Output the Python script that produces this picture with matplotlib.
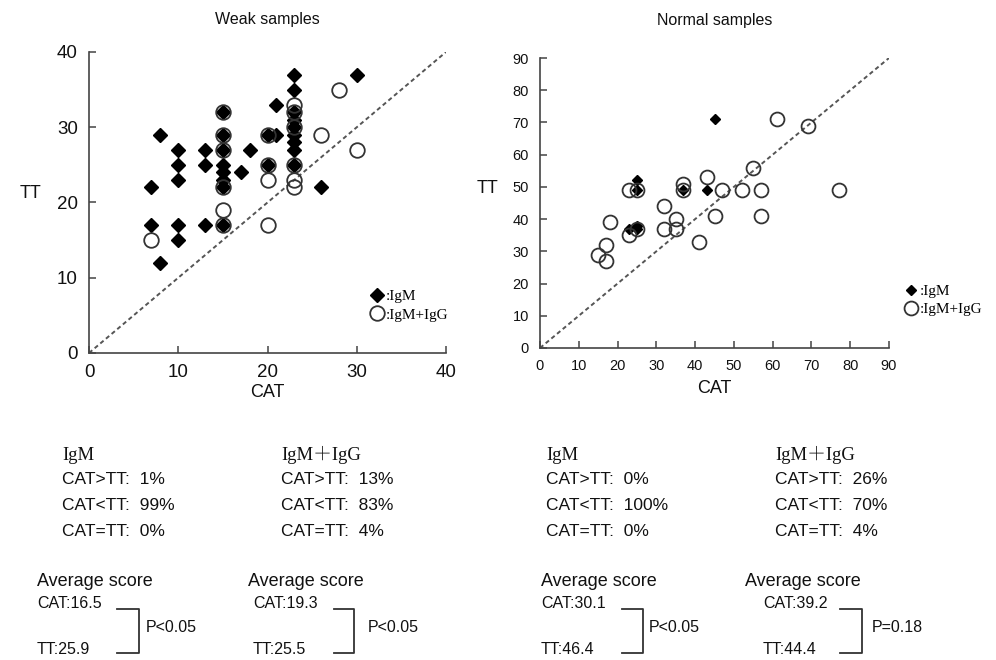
import matplotlib
matplotlib.use("Agg")
import matplotlib.pyplot as plt
from matplotlib.lines import Line2D

plt.rcParams['font.family'] = ['Liberation Sans', 'Noto Sans CJK JP', 'DejaVu Sans']

# Weak samples
weak_igm_cat = [7, 7, 8, 8, 10, 10, 10, 10, 10, 13, 13, 13, 15, 15, 15, 15, 15, 15, 15, 15,
                17, 18, 20, 20, 21, 21, 23, 23, 23, 23, 23, 23, 23, 23, 23, 26, 30]
weak_igm_tt = [22, 17, 29, 12, 27, 25, 23, 17, 15, 27, 25, 17, 32, 29, 27, 25, 24, 23, 22, 17,
               24, 27, 29, 25, 29, 33, 37, 35, 32, 31, 30, 29, 28, 27, 25, 22, 37]
weak_igg_cat = [7, 15, 15, 15, 15, 15, 15, 20, 20, 20, 20, 23, 23, 23, 23, 23, 23, 26, 28, 30]
weak_igg_tt = [15, 32, 29, 27, 22, 19, 17, 29, 25, 23, 17, 33, 32, 30, 25, 23, 22, 29, 35, 27]

# Normal samples
norm_igm_cat = [45, 25, 25, 37, 43, 23, 25, 25]
norm_igm_tt = [71, 52, 49, 49, 49, 37, 37, 38]
norm_igg_cat = [61, 69, 55, 43, 37, 23, 25, 37, 47, 52, 57, 77, 32, 45, 57, 18, 35, 32, 35,
                23, 25, 41, 17, 15, 17]
norm_igg_tt = [71, 69, 56, 53, 51, 49, 49, 49, 49, 49, 49, 49, 44, 41, 41, 39, 40, 37, 37,
               35, 37, 33, 32, 29, 27]

weak_ticks = [0, 10, 20, 30, 40]
norm_ticks = list(range(0, 100, 10))

INK = '#111111'
W, H = 996, 660
fig = plt.figure(figsize=(W / 100, H / 100), dpi=100)


def px(x, y):
    return x / W, 1 - y / H


def axes_box(x0, y0, x1, y1):
    return [x0 / W, 1 - y1 / H, (x1 - x0) / W, (y1 - y0) / H]


def style_axes(ax, lim, ticks, fs):
    ax.set_xlim(0, lim)
    ax.set_ylim(0, lim)
    ax.set_xticks(ticks)
    ax.set_yticks(ticks)
    for s in ['top', 'right']:
        ax.spines[s].set_visible(False)
    for s in ['left', 'bottom']:
        ax.spines[s].set_color('#444444')
        ax.spines[s].set_linewidth(1.2)
    ax.tick_params(direction='in', length=5, width=1.1, color='#444444',
                   labelsize=fs, labelcolor=INK, pad=8)
    ax.plot([0, lim], [0, lim], linestyle=(0, (2.2, 1.6)), color='#555555', lw=1.4, zorder=1)


serif = ['Liberation Serif', 'Noto Serif CJK JP', 'DejaVu Serif']

# left panel
ax1 = fig.add_axes(axes_box(89, 52, 446, 353))
style_axes(ax1, 40, weak_ticks, 13.5)
ax1.plot(weak_igm_cat, weak_igm_tt, 'D', ms=7, color='black', zorder=2, label=':IgM')
ax1.plot(weak_igg_cat, weak_igg_tt, 'o', ms=10.5, mfc='none', mec='#333333', mew=1.3,
         zorder=3, label=':IgM+IgG')
ax1.set_title('Weak samples', fontsize=11.5, pad=20, color=INK)
ax1.set_xlabel('CAT', fontsize=13, labelpad=2, color=INK)
ax1.set_ylabel('TT', fontsize=13, rotation=0, color=INK)
ax1.yaxis.set_label_coords(-0.165, 0.5)
ax1.legend(loc='upper left', bbox_to_anchor=(0.785, 0.21), frameon=False,
           prop={'family': serif, 'size': 11}, handlelength=1.0, handletextpad=0.1,
           labelspacing=0.3, borderpad=0, borderaxespad=0)

# right panel
ax2 = fig.add_axes(axes_box(540, 58, 889, 348))
style_axes(ax2, 90, norm_ticks, 10.5)
ax2.plot(norm_igm_cat, norm_igm_tt, 'D', ms=5, color='black', zorder=2, label=':IgM')
ax2.plot(norm_igg_cat, norm_igg_tt, 'o', ms=10, mfc='none', mec='#333333', mew=1.3,
         zorder=3, label=':IgM+IgG')
ax2.set_title('Normal samples', fontsize=11.5, pad=24, color=INK)
ax2.set_xlabel('CAT', fontsize=13, labelpad=5, color=INK)
ax2.set_ylabel('TT', fontsize=13, rotation=0, color=INK)
ax2.yaxis.set_label_coords(-0.15, 0.52)
ax2.legend(loc='upper left', bbox_to_anchor=(1.04, 0.22), frameon=False,
           prop={'family': serif, 'size': 11}, handlelength=1.0, handletextpad=0.1,
           labelspacing=0.3, borderpad=0, borderaxespad=0)

# summary text
groups = [
    (62, 'IgM', ['1%', '99%', '0%']),
    (281, 'IgM＋IgG', ['13%', '83%', '4%']),
    (546, 'IgM', ['0%', '100%', '0%']),
    (775, 'IgM＋IgG', ['26%', '70%', '4%']),
]
for x, head, vals in groups:
    fig.text(*px(x, 455), head, family=serif, fontsize=13.5, va='center', color=INK)
    for y, rel, v in zip([480, 506, 532], ['>', '<', '='], vals):
        fig.text(*px(x, y), 'CAT' + rel + 'TT:  ' + v, fontsize=12.5, va='center',
                 color=INK)

scores = [
    (37, 37, '16.5', '25.9', 'P<0.05', 117, 139, 146),
    (248, 253, '19.3', '25.5', 'P<0.05', 334, 354, 368),
    (541, 541, '30.1', '46.4', 'P<0.05', 622, 643, 649),
    (745, 763, '39.2', '44.4', 'P=0.18', 840, 862, 872),
]
for xa, xs, c, t, p, bx0, bx1, xp in scores:
    fig.text(*px(xa, 581), 'Average score', fontsize=13, va='center', color=INK)
    fig.text(*px(xs, 604), 'CAT:' + c, fontsize=11.5, va='center', color=INK)
    fig.text(*px(xs, 650), 'TT:' + t, fontsize=11.5, va='center', color=INK)
    xs_f = [bx0 / W, bx1 / W, bx1 / W, bx0 / W]
    ys_f = [1 - 609 / H, 1 - 609 / H, 1 - 653 / H, 1 - 653 / H]
    fig.add_artist(Line2D(xs_f, ys_f, color='#333333', lw=1.3))
    fig.text(*px(xp, 627), p, fontsize=11.5, va='center', color=INK)

fig.savefig('out.png', dpi=100)
